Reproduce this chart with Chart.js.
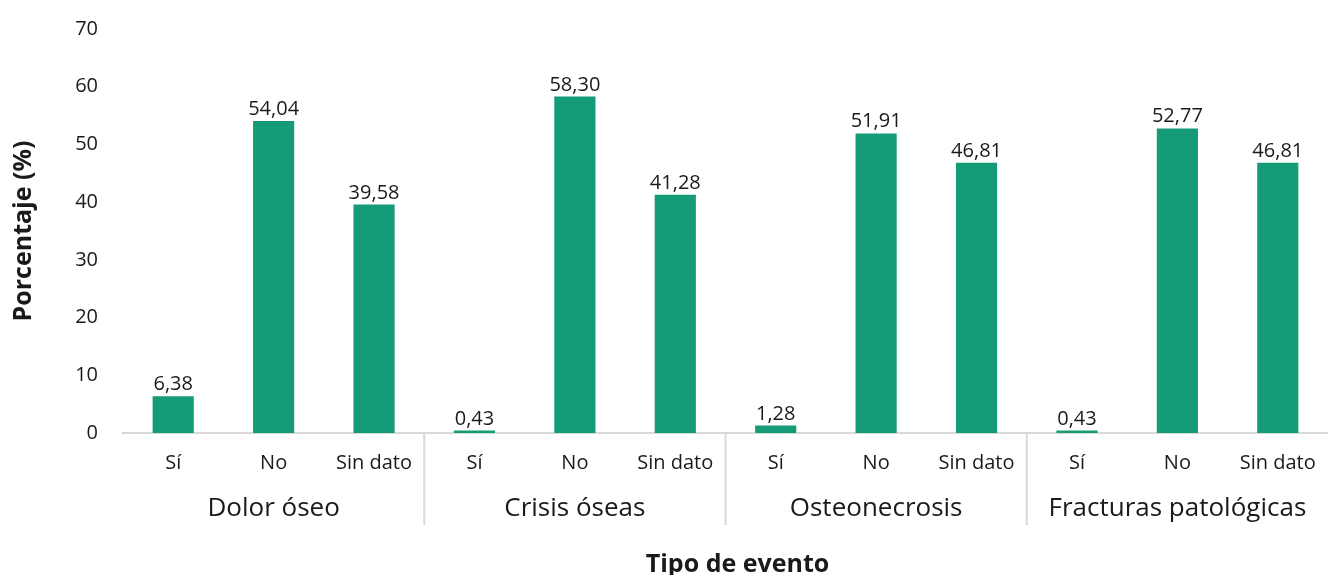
<!DOCTYPE html>
<html lang="es">
<head>
<meta charset="utf-8">
<title>Tipo de evento</title>
<script src="https://cdn.jsdelivr.net/npm/chart.js@4.4.1/dist/chart.umd.min.js"></script>
<style>
  html, body { margin: 0; padding: 0; background: #fff; }
  #wrap { width: 1328px; height: 575px; position: relative; }
</style>
</head>
<body>
<div id="wrap"><canvas id="chart"></canvas></div>
<script>
const groups = ["Dolor óseo", "Crisis óseas", "Osteonecrosis", "Fracturas patológicas"];
const answers = ["Sí", "No", "Sin dato"];
const siValues = [6.38, 0.43, 1.28, 0.43];
const noValues = [54.04, 58.30, 51.91, 52.77];
const sinDatoValues = [39.58, 41.28, 46.81, 46.81];
const yTicks = [0, 10, 20, 30, 40, 50, 60, 70];

const FONT = "'Open Sans', 'DejaVu Sans', sans-serif";
const TEXT = "#1a1a1a";
const BAR = "#169b78";
const LINE = "#d9d9d9";

// one bar per answer, grouped by event type
const labels = [];
const values = [];
groups.forEach((g, i) => {
  labels.push(...answers);
  values.push(siValues[i], noValues[i], sinDatoValues[i]);
});

const fmt = (v) => v.toFixed(2).replace(".", ",");

const valueLabels = {
  id: "valueLabels",
  afterDatasetsDraw(chart) {
    const { ctx } = chart;
    const meta = chart.getDatasetMeta(0);
    ctx.save();
    ctx.font = `20px ${FONT}`;
    ctx.fillStyle = TEXT;
    ctx.textAlign = "center";
    ctx.textBaseline = "alphabetic";
    meta.data.forEach((bar, i) => {
      ctx.fillText(fmt(values[i]), bar.x, bar.y - 6);
    });
    ctx.restore();
  }
};

// separators, event type names and the x axis title under the answer ticks
const groupLabels = {
  id: "groupLabels",
  afterDraw(chart) {
    const { ctx, chartArea } = chart;
    const x = chart.scales.x;
    const n = answers.length;
    ctx.save();
    ctx.strokeStyle = LINE;
    ctx.lineWidth = 2;
    for (let g = 1; g < groups.length; g++) {
      const sx = (x.getPixelForValue(g * n - 1) + x.getPixelForValue(g * n)) / 2;
      ctx.beginPath();
      ctx.moveTo(sx, chartArea.bottom);
      ctx.lineTo(sx, chartArea.bottom + 92);
      ctx.stroke();
    }
    ctx.font = `26px ${FONT}`;
    ctx.fillStyle = TEXT;
    ctx.textAlign = "center";
    ctx.textBaseline = "middle";
    groups.forEach((g, i) => {
      const cx = (x.getPixelForValue(i * n) + x.getPixelForValue(i * n + n - 1)) / 2;
      ctx.fillText(g, cx, chartArea.bottom + 76);
    });
    ctx.font = `bold 25px ${FONT}`;
    ctx.fillText("Tipo de evento", (chartArea.left + chartArea.right) / 2 + 12, chartArea.bottom + 132);
    ctx.restore();
  }
};

new Chart(document.getElementById("chart"), {
  type: "bar",
  data: {
    labels,
    datasets: [
      {
        data: values,
        backgroundColor: BAR,
        barPercentage: 0.41,
        categoryPercentage: 1,
      },
    ],
  },
  options: {
    responsive: true,
    maintainAspectRatio: false,
    animation: false,
    events: [],
    layout: { padding: { top: 29, right: 0, bottom: 0, left: 0 } },
    plugins: {
      legend: { display: false },
      tooltip: { enabled: false },
    },
    scales: {
      x: {
        grid: { display: false, drawTicks: false },
        border: { display: true, color: LINE, width: 2 },
        ticks: {
          color: TEXT,
          font: { family: FONT, size: 20 },
          padding: 18,
          maxRotation: 0,
          autoSkip: false,
        },
        afterFit(scale) {
          scale.height = 142;
          scale.paddingLeft = 0;
          scale.paddingRight = 0;
        },
      },
      y: {
        min: 0,
        max: 70,
        afterBuildTicks(scale) {
          scale.ticks = yTicks.map((v) => ({ value: v }));
        },
        grid: { display: false, drawTicks: false },
        border: { display: false },
        ticks: {
          color: TEXT,
          font: { family: FONT, size: 20 },
          padding: 25,
        },
        title: {
          display: true,
          text: "Porcentaje (%)",
          color: TEXT,
          font: { family: FONT, size: 25, weight: "bold" },
          padding: { top: 9, bottom: 0 },
        },
        afterFit(scale) {
          scale.width = 123;
          scale.paddingTop = 0;
          scale.paddingBottom = 0;
        },
      },
    },
  },
  plugins: [valueLabels, groupLabels],
});
</script>
</body>
</html>
